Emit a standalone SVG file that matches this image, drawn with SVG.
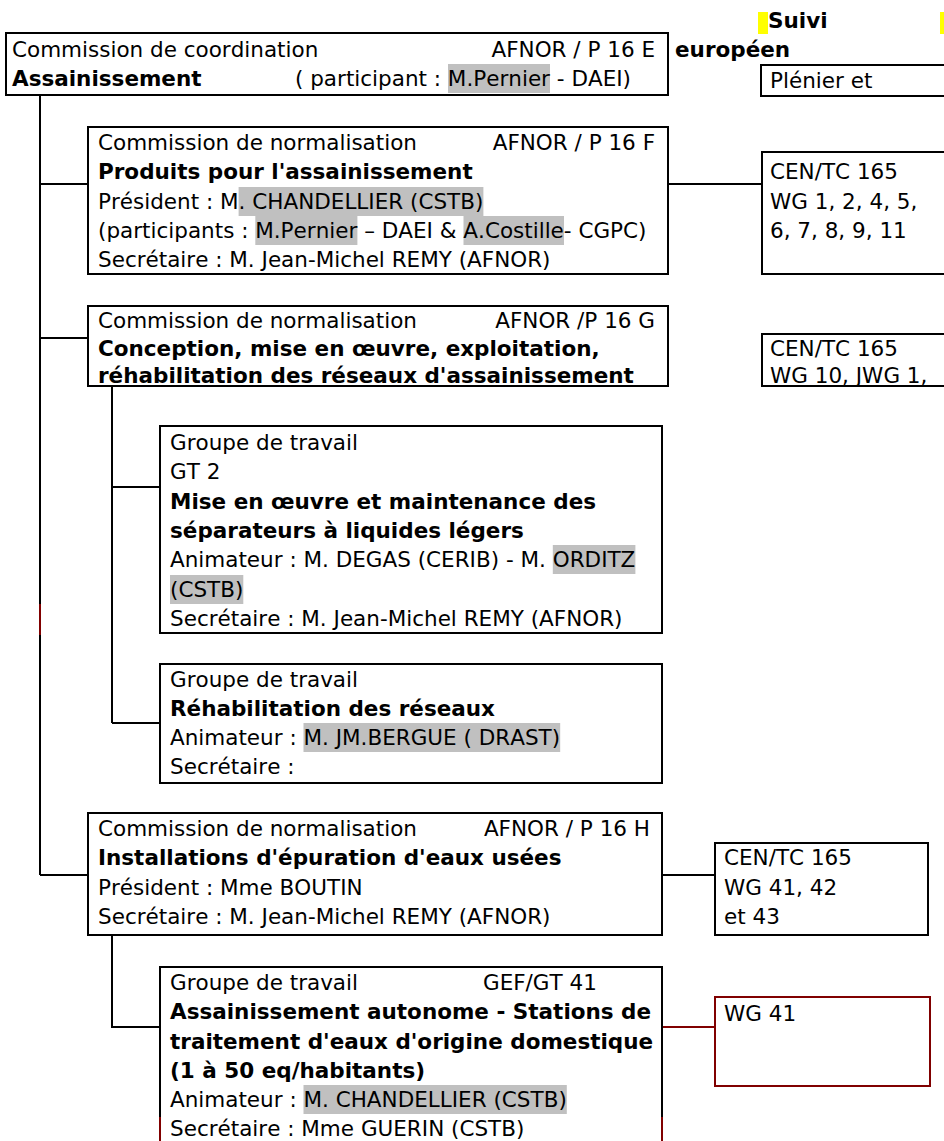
<svg xmlns="http://www.w3.org/2000/svg" width="944" height="1141" viewBox="0 0 944 1141">
<style>
text { font-family: "DejaVu Sans", Verdana, sans-serif; font-size: 21.5px; fill: #000; font-kerning: none; }
.b { font-weight: bold; }
.box { fill: #fff; stroke: #000; stroke-width: 2; }
.rbox { fill: #fff; stroke: #800000; stroke-width: 2; }
.hl { fill: #c0c0c0; }
.yl { fill: #ffff00; }
.c { stroke: #000; stroke-width: 2; fill: none; }
.cr { stroke: #800000; stroke-width: 2; fill: none; }
</style>
<rect width="944" height="1141" fill="#fff"/>

<g id="connectors">
  <path class="c" d="M40 95 V875"/>
  <path class="cr" d="M40 604 V635"/>
  <path class="c" d="M40 184 H88"/>
  <path class="c" d="M40 338 H88"/>
  <path class="c" d="M40 875 H88"/>
  <path class="c" d="M668 184 H762"/>
  <path class="c" d="M112 386 V723"/>
  <path class="c" d="M112 487 H160"/>
  <path class="c" d="M112 723 H160"/>
  <path class="c" d="M662 875 H715"/>
  <path class="c" d="M112 935 V1027 H160"/>
  <path class="cr" d="M662 1027 H715"/>
</g>

<g id="header">
  <rect class="yl" x="758" y="12" width="10" height="22"/>
  <rect class="yl" x="940" y="12" width="4" height="22"/>
  <text class="b" x="768" y="28">Suivi</text>
  <text class="b" x="675" y="57">européen</text>
</g>

<g id="n1">
  <rect class="box" x="6" y="33" width="662" height="62"/>
  <rect class="hl" x="448" y="64" width="102" height="29"/>
  <text x="12" y="57">Commission de coordination</text>
  <text x="655" y="57" text-anchor="end">AFNOR / P 16 E</text>
  <text x="12" y="86" class="b">Assainissement</text>
  <text x="295" y="86">( participant : M.Pernier - DAEI)</text>
</g>

<g id="n1r">
  <rect class="box" x="761" y="65" width="190" height="31"/>
  <text x="770" y="88">Plénier et</text>
</g>

<g id="n2">
  <rect class="box" x="88" y="127" width="580" height="147"/>
  <rect class="hl" x="238.6" y="187" width="244.8" height="29"/>
  <rect class="hl" x="255.3" y="216" width="102.1" height="29"/>
  <rect class="hl" x="463.5" y="216" width="100.5" height="29"/>
  <text x="98" y="150">Commission de normalisation</text>
  <text x="655" y="150" text-anchor="end">AFNOR / P 16 F</text>
  <text x="98" y="179" class="b">Produits pour l'assainissement</text>
  <text x="98" y="209">Président : M. CHANDELLIER (CSTB)</text>
  <text x="98" y="238">(participants : M.Pernier – DAEI &amp; A.Costille- CGPC)</text>
  <text x="98" y="267">Secrétaire : M. Jean-Michel REMY (AFNOR)</text>
</g>

<g id="n2r">
  <rect class="box" x="762" y="152" width="190" height="122"/>
  <text x="770" y="179">CEN/TC 165</text>
  <text x="770" y="209">WG 1, 2, 4, 5,</text>
  <text x="770" y="238">6, 7, 8, 9, 11</text>
</g>

<g id="n3">
  <rect class="box" x="88" y="306" width="580" height="80"/>
  <text x="98" y="328">Commission de normalisation</text>
  <text x="655" y="328" text-anchor="end">AFNOR /P 16 G</text>
  <text x="98" y="356" class="b">Conception, mise en œuvre, exploitation,</text>
  <text x="98" y="383" class="b">réhabilitation des réseaux d'assainissement</text>
</g>

<g id="n3r">
  <rect class="box" x="762" y="334" width="190" height="52"/>
  <text x="770" y="356">CEN/TC 165</text>
  <text x="770" y="383">WG 10, JWG 1,</text>
</g>

<g id="n4">
  <rect class="box" x="160" y="426" width="502" height="207"/>
  <rect class="hl" x="552.8" y="545" width="82.6" height="29"/>
  <rect class="hl" x="170" y="575" width="73.3" height="29"/>
  <text x="170" y="450">Groupe de travail</text>
  <text x="170" y="479">GT 2</text>
  <text x="170" y="509" class="b">Mise en œuvre et maintenance des</text>
  <text x="170" y="538" class="b">séparateurs à liquides légers</text>
  <text x="170" y="567">Animateur : M. DEGAS (CERIB) - M. ORDITZ</text>
  <text x="170" y="597">(CSTB)</text>
  <text x="170" y="626">Secrétaire : M. Jean-Michel REMY (AFNOR)</text>
</g>

<g id="n5">
  <rect class="box" x="160" y="664" width="502" height="119"/>
  <rect class="hl" x="303.5" y="723" width="256.7" height="29"/>
  <text x="170" y="687">Groupe de travail</text>
  <text x="170" y="716" class="b">Réhabilitation des réseaux</text>
  <text x="170" y="745">Animateur : M. JM.BERGUE ( DRAST)</text>
  <text x="170" y="774">Secrétaire :</text>
</g>

<g id="n6">
  <rect class="box" x="88" y="813" width="574" height="122"/>
  <text x="98" y="836">Commission de normalisation</text>
  <text x="650" y="836" text-anchor="end">AFNOR / P 16 H</text>
  <text x="98" y="865" class="b">Installations d'épuration d'eaux usées</text>
  <text x="98" y="895">Président : Mme BOUTIN</text>
  <text x="98" y="924">Secrétaire : M. Jean-Michel REMY (AFNOR)</text>
</g>

<g id="n6r">
  <rect class="box" x="715" y="843" width="213" height="92"/>
  <text x="724" y="865">CEN/TC 165</text>
  <text x="724" y="895">WG 41, 42</text>
  <text x="724" y="924">et 43</text>
</g>

<g id="n7">
  <rect x="160" y="967" width="502" height="180" fill="#fff"/>
  <path class="c" d="M160 1117 V967 H662 V1117"/>
  <path class="cr" d="M160 1117 V1141 M662 1117 V1141"/>
  <rect class="hl" x="303.5" y="1085" width="263.3" height="29"/>
  <text x="170" y="990">Groupe de travail</text>
  <text x="483" y="990">GEF/GT 41</text>
  <text x="170" y="1019" class="b">Assainissement autonome - Stations de</text>
  <text x="170" y="1049" class="b">traitement d'eaux d'origine domestique</text>
  <text x="170" y="1078" class="b">(1 à 50 eq/habitants)</text>
  <text x="170" y="1107">Animateur : M. CHANDELLIER (CSTB)</text>
  <text x="170" y="1136">Secrétaire : Mme GUERIN (CSTB)</text>
</g>

<g id="n7r">
  <rect class="rbox" x="715" y="997" width="215" height="89"/>
  <text x="724" y="1021">WG 41</text>
</g>
</svg>
